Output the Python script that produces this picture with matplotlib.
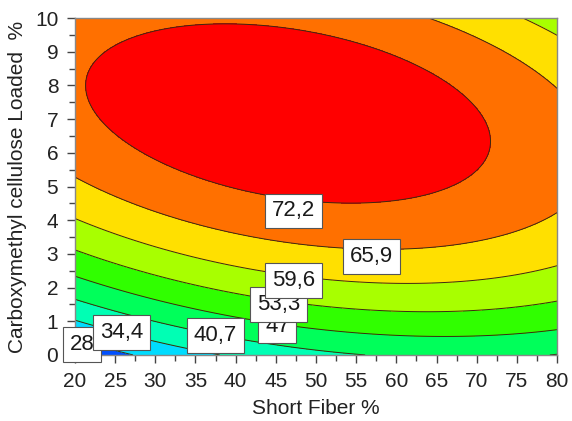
import numpy as np
import matplotlib
matplotlib.use("Agg")
import matplotlib.pyplot as plt
from matplotlib.colors import ListedColormap, BoundaryNorm
from matplotlib.ticker import MultipleLocator

plt.rcParams['font.family'] = ['Liberation Sans', 'DejaVu Sans']

# quadratic response surface, coefficients
# z = b0 + b1*x + b2*y + b11*x^2 + b22*y^2 + b12*x*y
coef = [3.0899, 1.14586, 13.2021, -0.00847538, -0.759126, -0.0498486]

fiber_range = [20, 80]
cmc_range = [0, 10]

levels = [28, 34.4, 40.7, 47, 53.3, 59.6, 65.9, 72.2]
band_colors = ['#0050ff', '#00dcff', '#00ffb4', '#00ff5a', '#30ff00',
               '#a8ff00', '#ffe000', '#ff7000', '#ff0000']

# where the level boxes sit (x, y)
label_pos = [(20.9, 0.31), (25.8, 0.67), (37.5, 0.58), (45.2, 0.85),
             (45.3, 1.50), (47.2, 2.21), (56.9, 2.92), (47.2, 4.28)]

xs = np.linspace(fiber_range[0], fiber_range[1], 400)
ys = np.linspace(cmc_range[0], cmc_range[1], 400)
X, Y = np.meshgrid(xs, ys)
b0, b1, b2, b11, b22, b12 = coef
Z = b0 + b1 * X + b2 * Y + b11 * X**2 + b22 * Y**2 + b12 * X * Y

bounds = [Z.min() - 1] + levels + [Z.max() + 1]
cmap = ListedColormap(band_colors)
norm = BoundaryNorm(bounds, cmap.N)

fig = plt.figure(figsize=(5.72, 4.21), dpi=100)
ax = fig.add_axes([0.131, 0.157, 0.843, 0.800])

ax.contourf(X, Y, Z, levels=bounds, cmap=cmap, norm=norm)
ax.contour(X, Y, Z, levels=levels, colors='#3a2a10', linewidths=0.7)

for i, (lv, (lx, ly)) in enumerate(zip(levels, label_pos)):
    ax.text(lx, ly, f'{lv:g}'.replace('.', ','), fontsize=16, color='#1a1a1a',
            ha='center', va='center', zorder=5 + i, clip_on=False,
            bbox=dict(boxstyle='square,pad=0.3', fc='white', ec='#555555', lw=0.8))

ax.set_xlim(fiber_range)
ax.set_ylim(cmc_range)
ax.xaxis.set_major_locator(MultipleLocator(5))
ax.xaxis.set_minor_locator(MultipleLocator(2.5))
ax.yaxis.set_major_locator(MultipleLocator(1))
ax.yaxis.set_minor_locator(MultipleLocator(0.5))
ax.tick_params(which='major', length=6, width=1, color='#444444',
               labelsize=15, labelcolor='#222222', pad=6)
ax.tick_params(which='minor', length=4, width=1, color='#444444')
for s in ax.spines.values():
    s.set_color('#888888')
    s.set_linewidth(1)

ax.set_xlabel('Short Fiber %', fontsize=15, color='#222222', labelpad=6)
ax.set_ylabel('Carboxymethyl cellulose Loaded  %', fontsize=15, color='#222222', labelpad=6)

fig.savefig('out.png', dpi=100)
